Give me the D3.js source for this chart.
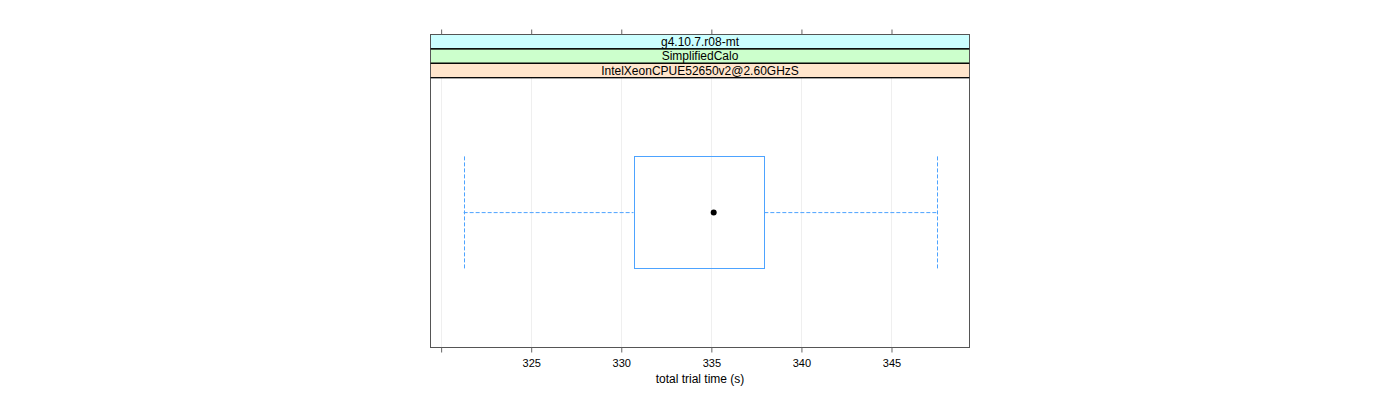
<!DOCTYPE html>
<html><head><meta charset="utf-8">
<script src="https://cdn.jsdelivr.net/npm/d3@7"></script>
<style>body{margin:0;background:#fff;} svg{display:block;font-family:"Liberation Sans",Arial,sans-serif;}</style>
</head><body>
<svg id="c" width="1400" height="400"></svg>
<script>
// strip labels (outer to inner, top to bottom)
const stripLabels = ["g4.10.7.r08-mt", "SimplifiedCalo", "IntelXeonCPUE52650v2@2.60GHzS"];
const stripColors = ["#ccffff", "#ccffcc", "#ffe5cc"];
// box statistics (total trial time, seconds)
const boxStats = { min: 321.25, q1: 330.68, median: 335.13, q3: 337.94, max: 347.5 };
const tickValues = [320, 325, 330, 335, 340, 345];
const tickLabels = ["", "325", "330", "335", "340", "345"];
const xDomain = [319.41, 349.33];
const xTitle = "total trial time (s)";

(function () {
const svg = d3.select("#c");
const L = 430.5, R = 969.5, T = 34.5, B = 347.5;
const stripH = 14.4;
const panelTop = T + stripH * stripLabels.length;

const x = d3.scaleLinear().domain(xDomain).range([L, R]);
const y = d3.scaleLinear().domain([0.4, 1.6]).range([B, panelTop]);

// grid lines
svg.append("g").selectAll("line").data(tickValues).join("line")
  .attr("x1", d => Math.round(x(d)) + 0.5).attr("x2", d => Math.round(x(d)) + 0.5)
  .attr("y1", panelTop).attr("y2", B)
  .attr("stroke", "#efefef").attr("stroke-width", 1);

// box
const cy = y(1), hw = (y(0.75) - y(1.25)) / 2;
const col = "#4da3ff";
const g = svg.append("g");
g.append("rect")
  .attr("x", Math.round(x(boxStats.q1)) + 0.5).attr("y", Math.round(cy - hw) + 0.5)
  .attr("width", Math.round(x(boxStats.q3)) - Math.round(x(boxStats.q1)))
  .attr("height", Math.round(2 * hw))
  .attr("fill", "none").attr("stroke", col).attr("stroke-width", 1);
// whiskers
[[boxStats.min, boxStats.q1], [boxStats.q3, boxStats.max]].forEach(([a, b]) => {
  g.append("line").attr("x1", x(a)).attr("x2", x(b)).attr("y1", cy).attr("y2", cy)
    .attr("stroke", col).attr("stroke-dasharray", "4,2");
});
[boxStats.min, boxStats.max].forEach(v => {
  g.append("line").attr("x1", Math.round(x(v)) + 0.5).attr("x2", Math.round(x(v)) + 0.5)
    .attr("y1", cy - hw).attr("y2", cy + hw)
    .attr("stroke", col).attr("stroke-dasharray", "4,2");
});
g.append("circle").attr("cx", x(boxStats.median)).attr("cy", cy).attr("r", 3).attr("fill", "#000");

// strips
stripLabels.forEach((lab, i) => {
  const sy = T + i * stripH;
  svg.append("rect").attr("x", L).attr("y", sy).attr("width", R - L).attr("height", stripH)
    .attr("fill", stripColors[i]).attr("stroke", "#000").attr("stroke-width", 1);
  svg.append("text").attr("x", (L + R) / 2).attr("y", sy + stripH / 2 + 4.3)
    .attr("text-anchor", "middle").attr("font-size", 12).attr("fill", "#000").text(lab);
});

// panel border
svg.append("rect").attr("x", L).attr("y", T).attr("width", R - L).attr("height", B - T)
  .attr("fill", "none").attr("stroke", "#555555").attr("stroke-width", 1)
  .attr("shape-rendering", "crispEdges");
stripLabels.forEach((lab, i) => {
  svg.append("line").attr("x1", L).attr("x2", R).attr("y1", T + (i + 1) * stripH).attr("y2", T + (i + 1) * stripH)
    .attr("stroke", "#000");
});

// axes
const bottomAxis = d3.axisBottom(x).tickValues(tickValues).tickFormat((d, i) => tickLabels[i]).tickSize(5).tickPadding(7);
const topAxis = d3.axisTop(x).tickValues(tickValues).tickFormat("").tickSize(5);
const ga = svg.append("g").attr("transform", `translate(0,${B})`).call(bottomAxis);
const gt = svg.append("g").attr("transform", `translate(0,${T})`).call(topAxis);
[ga, gt].forEach(a => {
  a.select(".domain").remove();
  a.selectAll(".tick line").attr("stroke", "#666");
  a.selectAll("text").attr("font-size", 11).attr("fill", "#000").attr("font-family", "Liberation Sans, Arial, sans-serif");
});

svg.append("text").attr("x", (L + R) / 2).attr("y", 383).attr("text-anchor", "middle")
  .attr("font-size", 12).attr("fill", "#000").text(xTitle);
})();
</script>
</body></html>
